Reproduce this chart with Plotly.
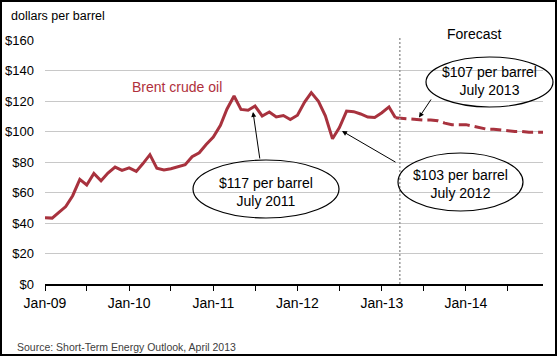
import pandas as pd
import plotly.graph_objects as go

# ---- data ----
hist_months = pd.date_range("2009-01-01", "2013-03-01", freq="MS")
hist_values = [
    43.4, 43.2, 46.8, 50.8, 57.9, 68.6, 64.9, 72.5, 67.7, 72.8, 76.7, 74.5,   # 2009
    76.2, 73.8, 78.8, 84.8, 75.9, 74.8, 75.6, 77.1, 78.2, 83.5, 86.1, 91.5,   # 2010
    96.3, 104.0, 114.6, 123.3, 114.5, 113.9, 116.7, 110.2, 112.8, 109.5, 110.5, 107.9,  # 2011
    110.7, 119.3, 125.5, 119.8, 110.3, 95.2, 102.6, 113.4, 113.0, 111.5, 109.5, 109.2,  # 2012
    112.3, 116.1, 109.0,  # 2013 Jan-Mar
]
fc_months = pd.date_range("2013-03-01", "2014-12-01", freq="MS")
fc_values = [
    109.0, 108.5, 108.0, 107.5, 107.5, 107.5, 107.0, 105.5, 104.5, 104.5,
    104.5, 103.5, 102.5, 101.5, 101.5, 101.0, 100.5, 100.0, 100.0, 99.5, 99.5, 99.5,
]
tick_dates = pd.date_range("2009-01-01", "2014-07-01", freq="6MS")
tick_text = [d.strftime("%b-%y") if d.month == 1 else "" for d in tick_dates]
y_ticks = [0, 20, 40, 60, 80, 100, 120, 140, 160]
y_tick_text = ["$%d" % v for v in y_ticks]
forecast_start = "2013-03-20"

FONT = "Liberation Sans, Arial, sans-serif"
RED = "#A8323E"

fig = go.Figure()
fig.add_trace(go.Scatter(x=hist_months, y=hist_values, mode="lines",
                         line=dict(color=RED, width=3), showlegend=False,
                         hoverinfo="skip"))
fig.add_trace(go.Scatter(x=fc_months, y=fc_values, mode="lines",
                         line=dict(color=RED, width=3, dash="11px,5px"),
                         showlegend=False, hoverinfo="skip"))

# paper helpers (plot area: x 45..543, y 40..284 px)
def px(x):
    return (x - 45) / 498.0

def py(y):
    return (284 - y) / 244.0

fig.add_shape(type="line", xref="x", yref="paper", x0=forecast_start, x1=forecast_start,
              y0=0, y1=1.01, line=dict(color="#9a9a9a", width=1.5, dash="2px,2px"))

ellipses = [(193, 160, 339, 218), (398, 153, 523, 211), (426, 57, 553, 107)]
for x0, y0, x1, y1 in ellipses:
    fig.add_shape(type="circle", xref="paper", yref="paper",
                  x0=px(x0), x1=px(x1), y0=py(y1), y1=py(y0),
                  line=dict(color="black", width=1.2))

# border
fig.add_shape(type="rect", xref="paper", yref="paper",
              x0=px(1), x1=px(556), y0=py(355), y1=py(1),
              line=dict(color="black", width=2))

texts = [
    ("$117 per barrel<br>July 2011", 266, 192, 14, "black", "center"),
    ("$103 per barrel<br>July 2012", 460, 183.5, 14, "black", "center"),
    ("$107 per barrel<br>July 2013", 489.5, 81, 14, "black", "center"),
    ("Forecast", 474, 33.5, 14, "black", "center"),
    ("Brent crude oil", 176.5, 87, 14, "#B0303C", "center"),
]
for t, x, y, s, c, a in texts:
    fig.add_annotation(text=t, x=px(x), y=py(y), xref="paper", yref="paper",
                       showarrow=False, xanchor=a, yanchor="middle",
                       font=dict(size=s, color=c, family=FONT))

fig.add_annotation(text="dollars per barrel", x=px(9), y=py(16), xref="paper", yref="paper",
                   showarrow=False, xanchor="left", yanchor="middle",
                   font=dict(size=12.5, color="black", family=FONT))
fig.add_annotation(text="Source: Short-Term Energy Outlook, April 2013", x=px(15), y=py(347),
                   xref="paper", yref="paper", showarrow=False, xanchor="left",
                   yanchor="middle", font=dict(size=10.5, color="#404040", family=FONT))

arrows = [((253, 112), (260, 160)), ((342, 131), (397, 163)), ((419, 117.5), (432, 98))]
for (hx, hy), (tx, ty) in arrows:
    fig.add_annotation(text="", x=px(hx), y=py(hy), xref="paper", yref="paper",
                       ax=tx - hx, ay=ty - hy, showarrow=True, arrowhead=2,
                       arrowsize=1, arrowwidth=1, arrowcolor="black")

fig.update_layout(
    width=558, height=357,
    margin=dict(l=45, r=15, t=40, b=73),
    paper_bgcolor="white", plot_bgcolor="white",
    font=dict(family=FONT, color="black"),
    showlegend=False,
    xaxis=dict(type="date", range=["2009-01-01", "2014-12-01"], automargin=False,
               tickmode="array", tickvals=tick_dates, ticktext=tick_text,
               showgrid=False, showline=True, linecolor="black", linewidth=1.5,
               ticks="outside", ticklen=5, tickcolor="black", tickwidth=1.2,
               tickfont=dict(size=14), zeroline=False),
    yaxis=dict(range=[0, 160], tickmode="array", tickvals=y_ticks, ticktext=y_tick_text,
               automargin=False,
               showgrid=True, gridcolor="#c8c8c8", gridwidth=1.3,
               showline=False, zeroline=False, ticks="",
               ticklabelstandoff=10, tickfont=dict(size=13)),
)

fig.write_html("out.html", config={"displayModeBar": False},
               post_script="document.body.style.margin='0';")
